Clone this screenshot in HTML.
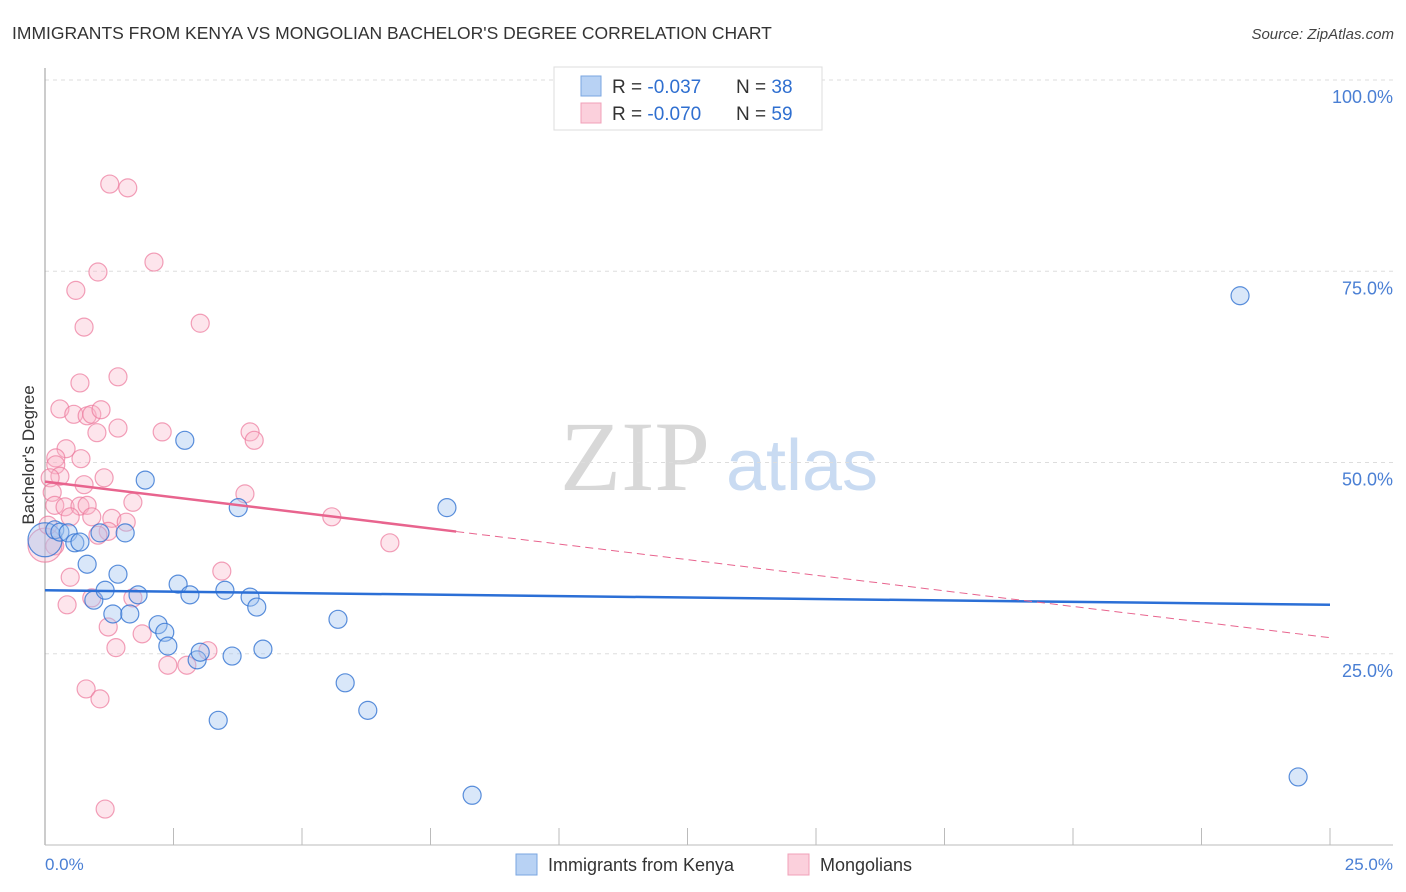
<!DOCTYPE html>
<html><head><meta charset="utf-8"><style>
body{margin:0;background:#fff;font-family:"Liberation Sans",sans-serif;}
svg{display:block}
</style></head><body>
<svg id="chart" width="1406" height="892">
<text x="12" y="39" font-size="17.5" fill="#333">IMMIGRANTS FROM KENYA VS MONGOLIAN BACHELOR'S DEGREE CORRELATION CHART</text>
<text x="1394" y="39" font-size="15" fill="#444" text-anchor="end" font-style="italic">Source: ZipAtlas.com</text>
<text x="635" y="490" font-size="100" fill="#d8d8d8" text-anchor="middle" font-family="Liberation Serif,serif">ZIP</text>
<text x="802" y="490" font-size="72" fill="#c9dbf2" text-anchor="middle">atlas</text>
<g id="grid"></g>
<line x1="45" y1="68" x2="45" y2="845" stroke="#999"/>
<line x1="45" y1="845" x2="1393" y2="845" stroke="#bbb"/>
<text transform="translate(34,455) rotate(-90)" font-size="17" fill="#333" text-anchor="middle">Bachelor's Degree</text>
<text x="45" y="870" font-size="17" fill="#4a7fd4">0.0%</text>
<text x="1393" y="870" font-size="17" fill="#4a7fd4" text-anchor="end">25.0%</text>
<g id="pts"></g>
<g id="trend"></g>
<g>
<rect x="554" y="67" width="268" height="63" fill="#fff" stroke="#ddd"/>
<rect x="581" y="76" width="20" height="20" fill="#b8d2f4" stroke="#7aa6e0"/>
<rect x="581" y="103" width="20" height="20" fill="#fbd0dc" stroke="#f0a0b8"/>
<text x="612" y="93" font-size="19" fill="#333">R = <tspan fill="#2f6fd0">-0.037</tspan><tspan x="736">N = </tspan><tspan fill="#2f6fd0">38</tspan></text>
<text x="612" y="120" font-size="19" fill="#333">R = <tspan fill="#2f6fd0">-0.070</tspan><tspan x="736">N = </tspan><tspan fill="#2f6fd0">59</tspan></text>
</g>
<g>
<rect x="516" y="854" width="21" height="21" fill="#b8d2f4" stroke="#7aa6e0"/>
<text x="548" y="871" font-size="18" fill="#333">Immigrants from Kenya</text>
<rect x="788" y="854" width="21" height="21" fill="#fbd0dc" stroke="#f0a0b8"/>
<text x="820" y="871" font-size="18" fill="#333">Mongolians</text>
</g>
</svg>
<script>
const yTicks=[25,50,75,100];
const yTickLabels=["25.0%","50.0%","75.0%","100.0%"];
const xTicks=[0,2.5,5,7.5,10,12.5,15,17.5,20,22.5,25];
const kenyaX=[0.0,0.19,0.29,0.45,0.58,0.68,0.82,0.95,1.07,1.17,1.32,1.42,1.56,1.65,1.81,1.95,2.20,2.33,2.39,2.59,2.72,2.82,2.96,3.02,3.37,3.50,3.64,3.76,3.99,4.12,4.24,5.70,5.84,6.28,7.82,8.31,23.25,24.38];
const kenyaY=[39.9,41.2,40.9,40.8,39.5,39.6,36.7,32.0,40.8,33.3,30.2,35.4,40.8,30.2,32.7,47.7,28.8,27.8,26.0,34.1,52.9,32.7,24.2,25.2,16.3,33.3,24.7,44.1,32.4,31.1,25.6,29.5,21.2,17.6,44.1,6.5,71.8,8.9];
const mongX=[1.26,1.61,2.12,1.03,0.60,0.76,3.02,0.68,1.42,0.29,0.56,0.82,0.91,1.09,1.01,1.42,2.28,3.99,4.07,0.41,0.21,0.21,0.70,0.29,0.10,0.14,1.15,0.19,0.39,0.68,0.82,3.89,1.71,0.91,1.30,1.58,5.58,0.49,6.71,1.23,1.03,0.19,0.49,3.44,0.43,0.91,1.71,1.23,1.89,1.38,3.17,2.39,2.76,0.80,1.07,1.17,0.0,0.06,0.76];
const mongY=[86.4,85.9,76.2,74.9,72.5,67.7,68.2,60.4,61.2,57.0,56.3,56.1,56.3,56.9,53.9,54.5,54.0,54.0,52.9,51.8,50.6,49.7,50.5,48.2,48.0,46.1,48.0,44.4,44.2,44.3,44.4,45.9,44.8,42.9,42.7,42.2,42.9,42.9,39.5,41.0,40.5,39.1,35.0,35.8,31.4,32.3,32.3,28.5,27.6,25.8,25.4,23.5,23.5,20.4,19.1,4.7,39.2,41.8,47.1];
const kenyaTrend=[33.3,31.4];
const mongTrend=[47.5,27.1];
const mongSolidEnd=8.0;
const sx=v=>45+v/25*1285, sy=v=>845-v*7.65;
const NS="http://www.w3.org/2000/svg";
function mk(t,a,p){const e=document.createElementNS(NS,t);for(const k in a)e.setAttribute(k,a[k]);p.appendChild(e);return e;}
const grid=document.getElementById('grid');
yTicks.forEach((v,i)=>{
 const l=mk('line',{x1:45,x2:1393,y1:sy(v),y2:sy(v),stroke:'#ddd','stroke-dasharray':'4,4'},grid);
 
 
 const t=mk('text',{x:1393,y:sy(v)+23,'font-size':18,fill:'#4a7fd4','text-anchor':'end'},grid);
 t.textContent=yTickLabels[i];
 
 
});
xTicks.forEach(v=>{
 const l=mk('line',{x1:sx(v),x2:sx(v),y1:828,y2:845,stroke:'#bbb'},grid);
 
 
});
const pts=document.getElementById('pts');
mongX.forEach((x,i)=>{
 const big=(x===0);
 const c=mk('circle',{cx:sx(x),cy:sy(mongY[i]),r:big?17:9,fill:'rgba(248,180,200,0.35)',stroke:'rgba(236,120,155,0.7)','stroke-width':1.2},pts);
 
 
});
kenyaX.forEach((x,i)=>{
 const big=(x===0);
 const c=mk('circle',{cx:sx(x),cy:sy(kenyaY[i]),r:big?17:9,fill:'rgba(160,195,240,0.4)',stroke:'rgba(50,115,210,0.8)','stroke-width':1.2},pts);
 
 
});
const tr=document.getElementById('trend');
const kl=mk('line',{x1:sx(0),y1:sy(kenyaTrend[0]),x2:sx(25),y2:sy(kenyaTrend[1]),stroke:'#2b6fd6','stroke-width':2.5},tr);


const mAt=v=>mongTrend[0]+(mongTrend[1]-mongTrend[0])*v/25;
const ml=mk('line',{x1:sx(0),y1:sy(mongTrend[0]),x2:sx(mongSolidEnd),y2:sy(mAt(mongSolidEnd)),stroke:'#e8648e','stroke-width':2.5},tr);


const md=mk('line',{x1:sx(mongSolidEnd),y1:sy(mAt(mongSolidEnd)),x2:sx(25),y2:sy(mongTrend[1]),stroke:'#e8648e','stroke-width':1,'stroke-dasharray':'8,5'},tr);


</script>
</body></html>
